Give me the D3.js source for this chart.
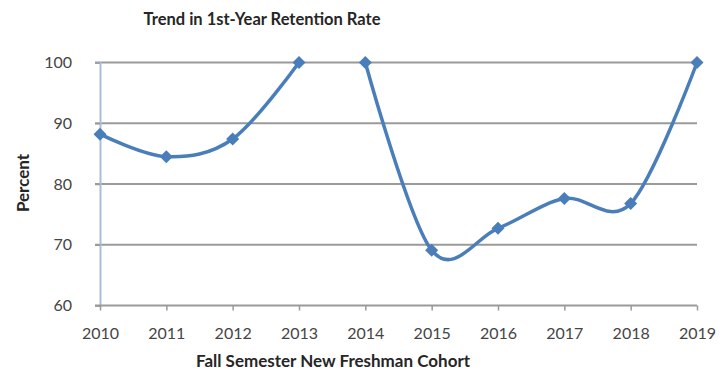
<!DOCTYPE html>
<html>
<head>
<meta charset="utf-8">
<script src="https://cdn.jsdelivr.net/npm/d3@7"></script>
<style>
  html, body { margin: 0; padding: 0; background: #fff; }
  svg { display: block; }
  text { font-family: Lato, "Open Sans", sans-serif; }
</style>
</head>
<body>
<script>
// Cohort years and first-year retention rates (percent)
const years = [2010, 2011, 2012, 2013, 2014, 2015, 2016, 2017, 2018, 2019];
const retention = [88.2, 84.5, 87.4, 100, 100, 69.1, 72.7, 77.6, 76.8, 100];
// The line is broken between 2013 and 2014
const segmentBreaks = [2013];
const yTicks = [60, 70, 80, 90, 100];

const W = 722, H = 381;
const margin = { left: 100, right: 25, top: 62.5, bottom: 75.5 };

const svg = d3.select("body").append("svg").attr("width", W).attr("height", H);

const x = d3.scalePoint().domain(years).range([margin.left, W - margin.right]);
const y = d3.scaleLinear().domain([60, 100]).range([H - margin.bottom, margin.top]);

// Horizontal gridlines
svg.append("g").selectAll("line").data(yTicks.slice(1)).join("line")
  .attr("x1", margin.left - 5).attr("x2", W - margin.right)
  .attr("y1", d => y(d)).attr("y2", d => y(d))
  .attr("stroke", "#9a9a9a").attr("stroke-width", 2);

// Y axis
const yAxis = svg.append("g").attr("transform", `translate(${margin.left},0)`)
  .call(d3.axisLeft(y).tickValues(yTicks).tickSize(5).tickPadding(23));
yAxis.select(".domain").attr("stroke", "#a9bddb").attr("stroke-width", 2);
yAxis.selectAll(".tick line").attr("stroke", "#9a9a9a").attr("stroke-width", 1.5);
yAxis.selectAll(".tick text").attr("font-size", 16).attr("fill", "#454545");

// X axis
const xAxis = svg.append("g").attr("transform", `translate(0,${y(60)})`)
  .call(d3.axisBottom(x).tickSize(5).tickPadding(17).tickSizeOuter(0));
xAxis.select(".domain").attr("stroke", "#9a9a9a").attr("stroke-width", 2)
  .attr("d", `M${margin.left - 5},0H${W - margin.right}`);
xAxis.selectAll(".tick line").attr("stroke", "#9a9a9a").attr("stroke-width", 1.5);
xAxis.selectAll(".tick text").attr("font-size", 16).attr("fill", "#454545");

// Data points split into line segments
const points = years.map((yr, i) => ({ year: yr, value: retention[i] }));
const segments = [];
let cur = [];
points.forEach(p => {
  cur.push(p);
  if (segmentBreaks.includes(p.year)) { segments.push(cur); cur = []; }
});
if (cur.length) segments.push(cur);

const line = d3.line()
  .x(d => x(d.year)).y(d => y(d.value))
  .curve(d3.curveCardinal.tension(0));

svg.append("g").selectAll("path").data(segments).join("path")
  .attr("d", line)
  .attr("fill", "none").attr("stroke", "#4a7ebb").attr("stroke-width", 3.5)
  .attr("stroke-linejoin", "round");

// Diamond markers (squares turned 45 degrees)
const diamond = d3.symbol().type(d3.symbolSquare).size(85);
svg.append("g").selectAll("path").data(points).join("path")
  .attr("d", diamond)
  .attr("transform", d => `translate(${x(d.year)},${y(d.value)}) rotate(45)`)
  .attr("fill", "#4a7ebb");

// Titles
svg.append("text").attr("x", 262).attr("y", 25).attr("text-anchor", "middle")
  .attr("font-size", 16.5).attr("font-weight", "bold").attr("fill", "#262626")
  .text("Trend in 1st-Year Retention Rate");

svg.append("text").attr("x", 333).attr("y", 367).attr("text-anchor", "middle")
  .attr("font-size", 17).attr("font-weight", "bold").attr("fill", "#262626")
  .text("Fall Semester New Freshman Cohort");

svg.append("text").attr("transform", "translate(29,183) rotate(-90)")
  .attr("text-anchor", "middle")
  .attr("font-size", 17).attr("font-weight", "bold").attr("fill", "#262626")
  .text("Percent");
</script>
</body>
</html>
